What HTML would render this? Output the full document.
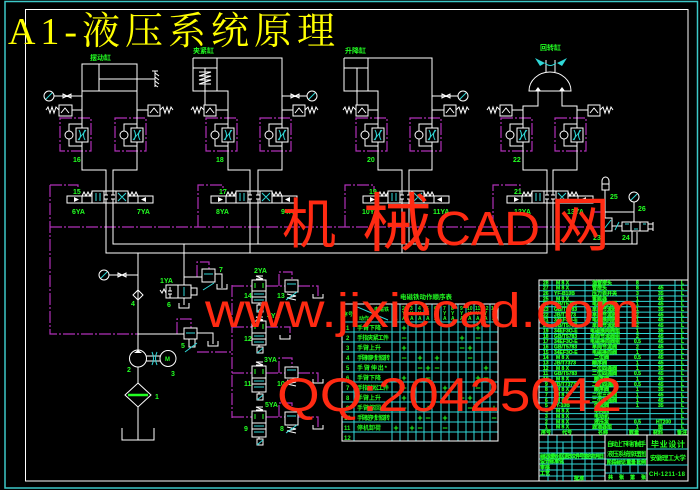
<!DOCTYPE html>
<html><head><meta charset="utf-8">
<style>
html,body{margin:0;padding:0;background:#000;width:700px;height:490px;overflow:hidden}
svg{display:block}
.g{fill:#22ff22;font-family:"Liberation Sans","Noto Sans CJK SC",sans-serif;font-weight:bold;stroke:none}
.t{fill:#22ff22;font-family:"Liberation Sans","Noto Sans CJK SC",sans-serif;font-weight:bold;stroke:#22ff22;stroke-width:0.25px;font-size:5px}
.r{fill:#ff2a12;stroke:none}
</style></head><body>
<svg width="700" height="490" viewBox="0 0 700 490" xmlns="http://www.w3.org/2000/svg">
<rect width="700" height="490" fill="#000"/>
<rect x="5" y="1.5" width="692.5" height="486.5" fill="none" stroke="#3cc8c8" stroke-width="1.5"/>
<rect x="25.5" y="9.5" width="662.5" height="471.5" fill="none" stroke="#fff" stroke-width="1"/>

<text x="8" y="44" font-size="38" fill="#ffff00" style="font-family:'Liberation Serif','Noto Serif CJK SC',serif" textLength="327" lengthAdjust="spacing">A1-液压系统原理</text>

<!-- magenta pilot / control lines -->
<g fill="none" stroke="#b030b8" stroke-width="1.2" stroke-dasharray="12 2 2 2">
<path d="M50 185H78V191M50 185V334H138"/>
<path d="M198 227V185H223V191"/>
<path d="M345 227V185H374V191"/>
<path d="M493 227V185H520V191"/>
<path d="M50 227H600M591 227V212H603"/>
<path d="M177 334V319H191V328"/>
<path d="M197 277V262H209V269"/>
<path d="M197 352H232"/>
<path d="M232 285V418"/>
<path d="M232 286H252M266 286H285M298 286H318V297"/>
<path d="M232 327H252M266 327H290V338"/>
<path d="M232 373H252M266 373H285M298 373H318V382"/>
<path d="M232 417H252M266 417H285M298 417H318V428"/>
<path d="M279 286V272H292V280M279 373V358H292V367M279 417V403H292V412"/>
<rect x="60" y="118" width="31" height="33"/>
<rect x="115" y="118" width="31" height="33"/>
<rect x="206" y="118" width="31" height="33"/>
<rect x="260" y="118" width="31" height="33"/>
<rect x="356" y="118" width="31" height="33"/>
<rect x="410" y="118" width="31" height="33"/>
<rect x="501" y="118" width="31" height="33"/>
<rect x="555" y="118" width="31" height="33"/>
</g>

<!-- white hydraulic lines -->
<g fill="none" stroke="#fff" stroke-width="1">
<rect x="82" y="64" width="55" height="27"/>
<path d="M99 64V91M99 79H155M155 71V87M152 71H158M155 73l4 3M155 77l4 3M155 81l4 3M155 85l3 2"/>
<path d="M82 91V128M82 142V170H106V191M137 91V128M137 142V170H113V191"/>
<path d="M54 96H82M72 110H82M137 110H148"/>
<path d="M193 58H282V128M282 142V170H258V191M193 58V91H228V128M228 142V170H250V191M217 58V91M193 68H217M205 68V105"/>
<path d="M199 72H211L199 76H211L199 80H211L199 84H211"/>
<path d="M216 110H228M282 110H293M282 96H307"/>
<path d="M344 58H432V128M432 142V170H409V191M344 58V91H378V128M378 142V170H402V191M368 58V91M344 68H368M357 68V105"/>
<path d="M368 110H378M432 110H444M432 96H458"/>
<path d="M529 91A21 19 0 0 1 571 91Z"/>
<path d="M546 60V72M555 60V72"/>
<path d="M538 91V106H523V128M523 142V170H547V191M562 91V106H577V128M577 142V170H553V191"/>
<path d="M512 110H523M577 110H588"/>
<circle cx="49" cy="96" r="5"/><circle cx="312" cy="96" r="5"/><circle cx="463" cy="96" r="5"/>
<circle cx="104" cy="275" r="5"/><circle cx="634" cy="197" r="5"/>
<rect x="59" y="105" width="13" height="11"/><rect x="148" y="105" width="12" height="11"/>
<rect x="204" y="105" width="12" height="11"/><rect x="293" y="105" width="12" height="11"/>
<rect x="356" y="105" width="12" height="11"/><rect x="444" y="105" width="12" height="11"/>
<rect x="500" y="105" width="12" height="11"/><rect x="588" y="105" width="12" height="11"/>
<path d="M61 113L65 108L69 113M150 113L154 108L158 113M206 113L210 108L214 113M295 113L299 108L303 113M358 113L362 108L366 113M446 113L450 108L454 113M502 113L506 108L510 113M590 113L594 108L598 113"/>
<path d="M46 110l2-3l2 6l2-6l2 6l2-6l3 3M160 110l3-3l2 6l2-6l2 6l2-6l2 3M191 110l2-3l2 6l2-6l2 6l2-6l3 3M305 110l3-3l2 6l2-6l2 6l2-6l2 3M343 110l2-3l2 6l2-6l2 6l2-6l3 3M456 110l3-3l2 6l2-6l2 6l2-6l2 3M487 110l2-3l2 6l2-6l2 6l2-6l3 3M600 110l3-3l2 6l2-6l2 6l2-6l2 3"/>
<rect x="76" y="128" width="12" height="14"/><rect x="131" y="128" width="12" height="14"/>
<rect x="222" y="128" width="12" height="14"/><rect x="276" y="128" width="12" height="14"/>
<rect x="372" y="128" width="12" height="14"/><rect x="426" y="128" width="12" height="14"/>
<rect x="517" y="128" width="12" height="14"/><rect x="571" y="128" width="12" height="14"/>
<path d="M82 124H69V131M69 139V146H82M137 124H124V131M124 139V146H137M228 124H215V131M215 139V146H228M282 124H269V131M269 139V146H282M378 124H365V131M365 139V146H378M432 124H419V131M419 139V146H432M523 124H510V131M510 139V146H523M577 124H564V131M564 139V146H577"/>
<circle cx="69" cy="135" r="4"/><circle cx="124" cy="135" r="4"/><circle cx="215" cy="135" r="4"/><circle cx="269" cy="135" r="4"/>
<circle cx="365" cy="135" r="4"/><circle cx="419" cy="135" r="4"/><circle cx="510" cy="135" r="4"/><circle cx="564" cy="135" r="4"/>
<rect x="92" y="191" width="36" height="12"/><rect x="236" y="191" width="36" height="12"/>
<rect x="388" y="191" width="36" height="12"/><rect x="532" y="191" width="36" height="12"/>
<path d="M104 191V203M116 191V203M248 191V203M260 191V203M400 191V203M412 191V203M544 191V203M556 191V203"/>
<path d="M106 191V195M104 195H108M113 191V195M111 195H115M106 203V199M104 199H108M113 203V199M111 199H115"/>
<path d="M250 191V195M248 195H252M258 191V195M256 195H260M250 203V199M248 199H252M258 203V199M256 199H260"/>
<path d="M402 191V195M400 195H404M409 191V195M407 195H411M402 203V199M400 199H404M409 203V199M407 199H411"/>
<path d="M547 191V195M545 195H549M553 191V195M551 195H555M547 203V199M545 199H549M553 203V199M551 199H555"/>
<rect x="67" y="196" width="25" height="7"/><rect x="128" y="196" width="25" height="7"/>
<rect x="211" y="196" width="25" height="7"/><rect x="272" y="196" width="25" height="7"/>
<rect x="363" y="196" width="25" height="7"/><rect x="424" y="196" width="25" height="7"/>
<rect x="507" y="196" width="25" height="7"/><rect x="568" y="196" width="25" height="7"/>
<path d="M82 196V203M138 196V203M226 196V203M282 196V203M378 196V203M434 196V203M522 196V203M578 196V203"/>
<path d="M82 196l2-4l2 4l2-4l2 4l2-4M128 192l2 4l2-4l2 4l2-4l2 4M226 196l2-4l2 4l2-4l2 4l2-4M272 192l2 4l2-4l2 4l2-4l2 4M378 196l2-4l2 4l2-4l2 4l2-4M424 192l2 4l2-4l2 4l2-4l2 4M522 196l2-4l2 4l2-4l2 4l2-4M568 192l2 4l2-4l2 4l2-4l2 4"/>
<path d="M106 203V253H547V203M113 203V244H637V232M250 203V253M258 203V244M402 203V253M409 203V244M553 203V244M632 231V244"/>
<path d="M138 253V350M184 244V285M184 277H202"/>
<path d="M602 190V181A3.5 4 0 0 1 609 181V190ZM602 184H609M605 190V218M605 212H634M634 202V222"/>
<rect x="603" y="218" width="9" height="13"/>
<path d="M612 226H622"/>
<rect x="622" y="222" width="26" height="9"/>
<path d="M631 222V231M640 222V231M648 224H653M648 229H653M653 222V231"/>
<path d="M133 295L138 290L143 295L138 300ZM109 275H138M118 273L126 277V273L118 277Z"/>
<path d="M63 94L71 98V94L63 98ZM291 94L299 98V94L291 98ZM442 94L450 98V94L442 98Z"/>
<path d="M138 334H184"/>
<rect x="184" y="328" width="13" height="11"/>
<rect x="189" y="339" width="6" height="8"/>
<path d="M197 333H213V344M208 341V346H218V341"/>
<rect x="166" y="285" width="25" height="13"/>
<path d="M178 285V298M184 298V305M179 303V308H189V303M160 290l2 3l2-4l2 4"/>
<path d="M170 287V291M168 291H172M170 298V294M168 294H172"/>
<rect x="191" y="288" width="6" height="7"/>
<rect x="202" y="269" width="13" height="13"/>
<path d="M215 274H222V288M217 284V289H227V284"/>
<circle cx="138" cy="358.5" r="8.5"/>
<circle cx="168" cy="358.5" r="8"/>
<path d="M146 356H160M146 361H160M138 367V383M138 383L151 395L138 407L125 395ZM138 407V440M122 428V440H154V428"/>
<rect x="252" y="280" width="14" height="23"/><rect x="252" y="321" width="14" height="24"/>
<rect x="252" y="366" width="14" height="26"/><rect x="252" y="411" width="14" height="26"/>
<path d="M252 291H266M252 297H266M252 333H266M252 339H266M252 378H266M252 384H266M252 423H266M252 429H266"/>
<path d="M256 279H263L256 276H263M256 320H263L256 317H263M256 365H263L256 362H263M256 410H263L256 407H263"/>
<path d="M259 303V305M259 345V347M259 392V394M259 437V439"/>
<rect x="257" y="305" width="6" height="7"/><rect x="257" y="347" width="6" height="6"/>
<rect x="257" y="394" width="6" height="6"/><rect x="257" y="439" width="6" height="6"/>
<rect x="285" y="280" width="13" height="12"/><rect x="285" y="367" width="13" height="11"/><rect x="285" y="412" width="13" height="13"/>
<path d="M287 294L296 296L287 298L296 300M287 380L296 382L287 384L296 386M287 427L296 429L287 431L296 433"/>
<path d="M313 294V298H323V294M280 335V339H290V335M313 379V383H323V379M313 425V429H323V425"/>
</g>
<g fill="#fff" stroke="none">
<path d="M535 91L538 87L541 91ZM559 91L562 87L565 91Z"/>
<path d="M74 197L79 199.5L74 202ZM146 197L141 199.5L146 202ZM218 197L223 199.5L218 202ZM290 197L285 199.5L290 202ZM370 197L375 199.5L370 202ZM442 197L437 199.5L442 202ZM514 197L519 199.5L514 202ZM586 197L581 199.5L586 202Z"/>
<path d="M134 353L138 350L142 353Z"/>
</g>
<g fill="none" stroke="#30d8d8" stroke-width="1">
<path d="M46 99L52 93M309 99L315 93M460 99L466 93M101 278L107 272M631 200L637 194"/>
<path d="M79 130Q82 135 79 140M85 130Q82 135 85 140M134 130Q137 135 134 140M140 130Q137 135 140 140M225 130Q228 135 225 140M231 130Q228 135 231 140M279 130Q282 135 279 140M285 130Q282 135 285 140M375 130Q378 135 375 140M381 130Q378 135 381 140M429 130Q432 135 429 140M435 130Q432 135 435 140M520 130Q523 135 520 140M526 130Q523 135 526 140M574 130Q577 135 574 140M580 130Q577 135 580 140"/>
<path d="M78 140L86 130M133 140L141 130M224 140L232 130M278 140L286 130M374 140L382 130M428 140L436 130M519 140L527 130M573 140L581 130"/>
<path d="M96 193V201M100 193V201M240 193V201M244 193V201M392 193V201M396 193V201M536 193V201M540 193V201"/>
<path d="M118 193L126 201M126 193L118 201M262 193L270 201M270 193L262 201M414 193L422 201M422 193L414 201M558 193L566 201M566 193L558 201"/>
<path d="M604 229L611 220M615 230L619 222M625 224H629M634 229H638M643 224H646"/>
<path d="M186 333H195M185 352L197 343M184 287V296M204 274H213M203 290L214 283"/>
<path d="M152 352Q155 358.5 152 365M157 352Q154 358.5 157 365"/>
<path d="M254 294H264M254 300H264M254 336H264M254 342H264M254 381H264M254 387H264M254 426H264M254 432H264"/>
<path d="M287 284H296M287 370H296M287 416H296M286 300L297 292M286 386L297 378M286 433L297 425"/>
<path d="M257 312L263 306M257 353L263 348M257 400L263 395M257 445L263 440"/>
</g>
<path d="M535 58L545 63L540 66ZM567 58L557 63L562 66Z" fill="#30d8d8"/>
<path d="M545 63Q550 68 556 63" fill="none" stroke="#30d8d8"/>
<path d="M255 283V288M263 283V288M255 324V329M263 324V329M255 369V374M263 369V374M255 414V419M263 414V419" stroke="#22ff22" fill="none"/>
<path d="M128 395H148" stroke="#22ff22" stroke-width="2.5"/>

<g class="g" font-size="7">
<text x="90" y="60">摆动缸</text>
<text x="193" y="53">夹紧缸</text>
<text x="345" y="53">升降缸</text>
<text x="540" y="50">回转缸</text>
<text x="73" y="162">16</text><text x="216" y="162">18</text><text x="367" y="162">20</text><text x="513" y="162">22</text>
<text x="73" y="194">15</text><text x="219" y="194">17</text><text x="369" y="194">19</text><text x="514" y="194">21</text>
<text x="72" y="214">6YA</text><text x="137" y="214">7YA</text>
<text x="216" y="214">8YA</text><text x="281" y="214">9YA</text>
<text x="362" y="214">10YA</text><text x="433" y="214">11YA</text>
<text x="514" y="214">12YA</text><text x="567" y="214">13YA</text>
<text x="610" y="199">25</text><text x="638" y="211">26</text>
<text x="593" y="240">23</text><text x="622" y="240">24</text>
<text x="160" y="283">1YA</text><text x="167" y="307">6</text><text x="219" y="272">7</text>
<text x="131" y="306">4</text><text x="181" y="348">5</text>
<text x="127" y="372">2</text><text x="171" y="376">3</text><text x="155" y="399">1</text>
<text x="165" y="361" font-size="6">M</text>
<text x="254" y="273">2YA</text><text x="244" y="298">14</text><text x="277" y="298">13</text>
<text x="267" y="318">4YA</text><text x="244" y="341">12</text>
<text x="264" y="362">3YA</text><text x="244" y="386">11</text><text x="277" y="386">10</text>
<text x="265" y="407">5YA</text><text x="244" y="431">9</text><text x="280" y="431">8</text>
</g>

<text class="g" x="400" y="299" font-size="6.5">电磁铁动作顺序表</text>
<g fill="none" stroke="#30d8d8" stroke-width="1">
<path d="M354 304V441M392 304V441M400 304V441M408 304V441M416 304V441M424 304V441M432 304V441M441 304V441M449 304V441M458 304V441M466 304V441M474 304V441M482 304V441M490 304V441"/>
<path d="M342 322H498M342 332H498M342 342H498M342 352H498M342 362H498M342 372H498M342 382H498M342 392H498M342 402H498M342 412H498M342 422H498M342 432H498"/>
<path d="M355 306L388 320"/>
</g>
<rect x="342" y="304" width="156" height="137" fill="none" stroke="#fff"/>
<g class="g" font-size="5">
<text x="343" y="316">序号</text><text x="374" y="311">电磁铁</text><text x="359" y="320">动作</text>
<text x="394" y="310">1</text><text x="394" y="315">Y</text><text x="394" y="320">A</text>
<text x="402" y="310">2</text><text x="402" y="315">Y</text><text x="402" y="320">A</text>
<text x="410" y="310">3</text><text x="410" y="315">Y</text><text x="410" y="320">A</text>
<text x="418" y="310">4</text><text x="418" y="315">Y</text><text x="418" y="320">A</text>
<text x="426" y="310">5</text><text x="426" y="315">Y</text><text x="426" y="320">A</text>
<text x="434" y="310">6</text><text x="434" y="315">Y</text><text x="434" y="320">A</text>
<text x="443" y="310">7</text><text x="443" y="315">Y</text><text x="443" y="320">A</text>
<text x="451" y="310">8</text><text x="451" y="315">Y</text><text x="451" y="320">A</text>
<text x="460" y="310">9</text><text x="460" y="315">Y</text><text x="460" y="320">A</text>
<text x="467" y="310">10</text><text x="468" y="315">Y</text><text x="468" y="320">A</text>
<text x="475" y="310">11</text><text x="476" y="315">Y</text><text x="476" y="320">A</text>
<text x="483" y="310">12</text><text x="484" y="315">Y</text><text x="484" y="320">A</text>
<text x="491" y="310">13</text><text x="492" y="315">Y</text><text x="492" y="320">A</text>
</g>
<g class="g" font-size="6">
<text x="346" y="330">1</text><text x="357" y="330">手臂下降</text>
<text x="346" y="340">2</text><text x="357" y="340" textLength="32">手指夹紧工件</text>
<text x="346" y="350">3</text><text x="357" y="350">手臂上升</text>
<text x="346" y="360">4</text><text x="357" y="360" textLength="33">手臂顺时针旋转</text>
<text x="346" y="370">5</text><text x="357" y="370" textLength="30">手臂伸出*</text>
<text x="346" y="380">6</text><text x="357" y="380">手臂下降</text>
<text x="346" y="390">7</text><text x="357" y="390" textLength="32">手指放松工件</text>
<text x="346" y="400">8</text><text x="357" y="400">手臂上升</text>
<text x="346" y="410">9</text><text x="357" y="410">手臂缩回</text>
<text x="344" y="420">10</text><text x="357" y="420" textLength="33">手臂逆时针旋转</text>
<text x="344" y="430">11</text><text x="357" y="430">停机卸荷</text>
<text x="344" y="440">12</text>
</g>
<g class="g" font-size="9" text-anchor="middle">
<text x="404" y="331">+</text><text x="478" y="331">+</text>
<text x="404" y="341">−</text><text x="462" y="341">+</text><text x="478" y="341">−</text>
<text x="404" y="351">+</text><text x="462" y="351">−</text><text x="470" y="351">+</text>
<text x="404" y="361">−</text><text x="420" y="361">+</text><text x="437" y="361">+</text><text x="470" y="361">−</text>
<text x="420" y="371">−</text><text x="428" y="371">+</text><text x="437" y="371">−</text><text x="486" y="371">+</text>
<text x="404" y="381">+</text><text x="428" y="381">−</text><text x="478" y="381">+</text><text x="486" y="381">−</text>
<text x="404" y="391">−</text><text x="445" y="391">+</text><text x="478" y="391">−</text>
<text x="404" y="401">+</text><text x="462" y="401">−</text><text x="470" y="401">+</text>
<text x="404" y="411">−</text><text x="428" y="411">+</text><text x="470" y="411">−</text><text x="494" y="411">+</text>
<text x="420" y="421">+</text><text x="428" y="421">−</text><text x="445" y="421">+</text><text x="494" y="421">−</text>
<text x="396" y="431">+</text><text x="412" y="431">+</text><text x="420" y="431">−</text><text x="445" y="431">−</text>
</g>

<g fill="none" stroke="#30d8d8" stroke-width="1">
<path d="M552 280V435M585 280V435M627 280V435M650 280V435M675 280V435"/>
<path d="M539 285.3H688M539 290.7H688M539 296H688M539 301.4H688M539 306.7H688M539 312.1H688M539 317.4H688M539 322.8H688M539 328.1H688M539 333.5H688M539 338.8H688M539 344.1H688M539 349.5H688M539 354.8H688M539 360.2H688M539 365.5H688M539 370.9H688M539 376.2H688M539 381.6H688M539 386.9H688M539 392.2H688M539 397.6H688M539 402.9H688M539 408.3H688M539 413.6H688M539 419H688M539 424.3H688M539 429.7H688"/>
<path d="M548 435V481M557 435V481M563 442V481M572 435V481M585 435V481M592 435V481"/>
<path d="M539 442H605M539 448H605M539 453H605M539 459H605M539 464H605M539 470H605M539 476H605"/>
<path d="M605 459H647M605 465H647M605 473H647M611 465V473M616 465V473M621 465V473M630 459V473M638 459V473"/>
<path d="M647 449H688M647 465H688"/>
</g>
<path d="M539 481V280H688M539 435H688M605 435V481M647 435V481" fill="none" stroke="#fff"/>
<g class="t">
<text x="543" y="284.3">28</text><text x="556" y="284.3">M 8 X</text><text x="592" y="284.3">油管接头</text><text x="636" y="284.3">8</text><text x="681" y="284.3">L</text>
<text x="543" y="289.7">27</text><text x="556" y="289.7">M 8 X</text><text x="592" y="289.7">管接头</text><text x="636" y="289.7">8</text><text x="658" y="289.7">45</text><text x="681" y="289.7">L</text>
<text x="543" y="295">26</text><text x="554" y="295">YF-B10B</text><text x="592" y="295">压力表开关</text><text x="636" y="295">3</text><text x="658" y="295">35</text><text x="681" y="295">L</text>
<text x="543" y="300.4">25</text><text x="556" y="300.4">M 8 X</text><text x="592" y="300.4">蓄能器</text><text x="636" y="300.4">1</text><text x="658" y="300.4">45</text><text x="681" y="300.4">L</text>
<text x="543" y="305.7">24</text><text x="554" y="305.7">GB/T5783</text><text x="592" y="305.7">电磁换向阀</text><text x="636" y="305.7">1</text><text x="658" y="305.7">45</text><text x="681" y="305.7">L</text>
<text x="543" y="311">23</text><text x="554" y="311">GB/T5783</text><text x="592" y="311">单向节流阀</text><text x="636" y="311">1</text><text x="658" y="311">35</text><text x="681" y="311">L</text>
<text x="543" y="316.4">22</text><text x="554" y="316.4">JB/T7373</text><text x="592" y="316.4">单向节流阀</text><text x="636" y="316.4">2</text><text x="658" y="316.4">45</text><text x="681" y="316.4">L</text>
<text x="543" y="321.7">21</text><text x="554" y="321.7">34EF3O-E</text><text x="592" y="321.7">电磁换向阀</text><text x="636" y="321.7">1</text><text x="658" y="321.7">45</text><text x="681" y="321.7">L</text>
<text x="543" y="327.1">20</text><text x="554" y="327.1">GB/T5783</text><text x="592" y="327.1">单向节流阀</text><text x="636" y="327.1">2</text><text x="658" y="327.1">45</text><text x="681" y="327.1">L</text>
<text x="543" y="332.4">19</text><text x="554" y="332.4">34EF3O-E</text><text x="590" y="332.4">电磁换向阀组</text><text x="636" y="332.4">1</text><text x="658" y="332.4">35</text><text x="681" y="332.4">L</text>
<text x="543" y="337.8">18</text><text x="554" y="337.8">GB/T5783</text><text x="590" y="337.8">单向节流阀组</text><text x="636" y="337.8">2</text><text x="658" y="337.8">45</text><text x="681" y="337.8">L</text>
<text x="543" y="343.1">17</text><text x="554" y="343.1">34EF3O-E</text><text x="590" y="343.1">电磁换向阀组</text><text x="634" y="343.1">0.5</text><text x="658" y="343.1">45</text><text x="681" y="343.1">L</text>
<text x="543" y="348.4">16</text><text x="554" y="348.4">GB/T5783</text><text x="592" y="348.4">单向节流阀</text><text x="636" y="348.4">2</text><text x="658" y="348.4">45</text><text x="681" y="348.4">L</text>
<text x="543" y="353.8">15</text><text x="554" y="353.8">34EF3O-E</text><text x="592" y="353.8">电磁换向阀</text><text x="636" y="353.8">1</text><text x="658" y="353.8">35</text><text x="681" y="353.8">L</text>
<text x="543" y="359.1">14</text><text x="556" y="359.1">M 8 X</text><text x="594" y="359.1">二位阀</text><text x="634" y="359.1">0.5</text><text x="658" y="359.1">45</text><text x="681" y="359.1">L</text>
<text x="543" y="364.5">13</text><text x="554" y="364.5">JB/T7373</text><text x="592" y="364.5">顺序阀</text><text x="636" y="364.5">1</text><text x="658" y="364.5">45</text><text x="681" y="364.5">L</text>
<text x="543" y="369.8">12</text><text x="556" y="369.8">M 8 X</text><text x="592" y="369.8">二位四通阀</text><text x="636" y="369.8">1</text><text x="658" y="369.8">35</text><text x="681" y="369.8">L</text>
<text x="543" y="375.2">11</text><text x="554" y="375.2">GB/T5783</text><text x="592" y="375.2">二位四通阀</text><text x="634" y="375.2">0.5</text><text x="658" y="375.2">45</text><text x="681" y="375.2">L</text>
<text x="543" y="380.5">10</text><text x="556" y="380.5">M 8 X</text><text x="594" y="380.5">顺序阀</text><text x="636" y="380.5">1</text><text x="658" y="380.5">45</text><text x="681" y="380.5">L</text>
<text x="545" y="385.9">9</text><text x="554" y="385.9">JB/T7373</text><text x="592" y="385.9">二位四通阀</text><text x="634" y="385.9">0.5</text><text x="658" y="385.9">45</text><text x="681" y="385.9">L</text>
<text x="545" y="391.2">8</text><text x="556" y="391.2">M 8 X</text><text x="594" y="391.2">顺序阀</text><text x="636" y="391.2">1</text><text x="658" y="391.2">35</text><text x="681" y="391.2">L</text>
<text x="545" y="396.5">7</text><text x="556" y="396.5">M 8 X</text><text x="592" y="396.5">二位三通阀</text><text x="636" y="396.5">1</text><text x="658" y="396.5">45</text><text x="681" y="396.5">L</text>
<text x="545" y="401.9">6</text><text x="556" y="401.9">M 8 X</text><text x="592" y="401.9">二位三通阀</text><text x="636" y="401.9">1</text><text x="658" y="401.9">45</text><text x="681" y="401.9">L</text>
<text x="545" y="407.2">5</text><text x="556" y="407.2">Y-10B</text><text x="594" y="407.2">溢流阀</text><text x="636" y="407.2">1</text><text x="658" y="407.2">35</text><text x="681" y="407.2">L</text>
<text x="545" y="412.6">4</text><text x="556" y="412.6">M 8 X</text><text x="594" y="412.6">单向阀</text><text x="681" y="412.6">L</text>
<text x="545" y="417.9">3</text><text x="556" y="417.9">M 8 X</text><text x="594" y="417.9">电动机</text><text x="681" y="417.9">L</text>
<text x="545" y="423.3">2</text><text x="556" y="423.3">M 8 X</text><text x="594" y="423.3">液压泵</text><text x="634" y="423.3">0.5</text><text x="656" y="423.3">HT200</text><text x="681" y="423.3">L</text>
<text x="545" y="428.6">1</text><text x="556" y="428.6">M 8 X</text><text x="592" y="428.6">滤油器组</text><text x="636" y="428.6">1</text><text x="658" y="428.6">组</text><text x="681" y="428.6">L</text>
<text x="541" y="434">序号</text><text x="562" y="434">代号</text><text x="598" y="434">名称</text><text x="629" y="434">数量</text><text x="653" y="434">材料</text><text x="677" y="434">备注</text>
<text x="540" y="458" textLength="64">标记 处数 分区 更改文件号 签名 年月日</text>
<text x="540" y="463">设计</text><text x="549" y="463">标准化</text>
<text x="540" y="469">审核</text><text x="540" y="475">工艺</text><text x="574" y="480">批准</text>
<text x="607" y="464" textLength="39">阶段标记 重量 比例</text>
<text x="608" y="479" textLength="38">共 张 第 张</text>
</g>
<g class="g">
<text x="607" y="446" font-size="6.3" textLength="39">自动上下料机械手</text>
<text x="607" y="456" font-size="6.3" textLength="39">液压系统原理图</text>
<text x="651" y="447" font-size="8" textLength="34">毕业设计</text>
<text x="650" y="460" font-size="6.5" textLength="36">安徽理工大学</text>
<text x="649" y="476" font-size="6" textLength="36">CH-1211-18</text>
</g>

<g class="r">
<text x="282" y="243" font-size="54" style="font-family:'Noto Sans CJK SC',sans-serif">机</text>
<text x="362" y="246" font-size="64" textLength="70" lengthAdjust="spacingAndGlyphs" style="font-family:'Noto Sans CJK SC',sans-serif">械</text>
<text x="435" y="245" font-size="48" textLength="105" lengthAdjust="spacingAndGlyphs" style="font-family:'Liberation Sans',sans-serif">CAD</text>
<text x="550" y="246" font-size="60" style="font-family:'Noto Sans CJK SC',sans-serif">网</text>
<text x="205" y="327" font-size="48" textLength="435" lengthAdjust="spacingAndGlyphs" style="font-family:'Liberation Sans',sans-serif">www.jixiecad.com</text>
<text x="277" y="411" font-size="47" textLength="345" lengthAdjust="spacingAndGlyphs" style="font-family:'Liberation Sans',sans-serif">QQ:20425042</text>
</g>
</svg>
</body></html>
